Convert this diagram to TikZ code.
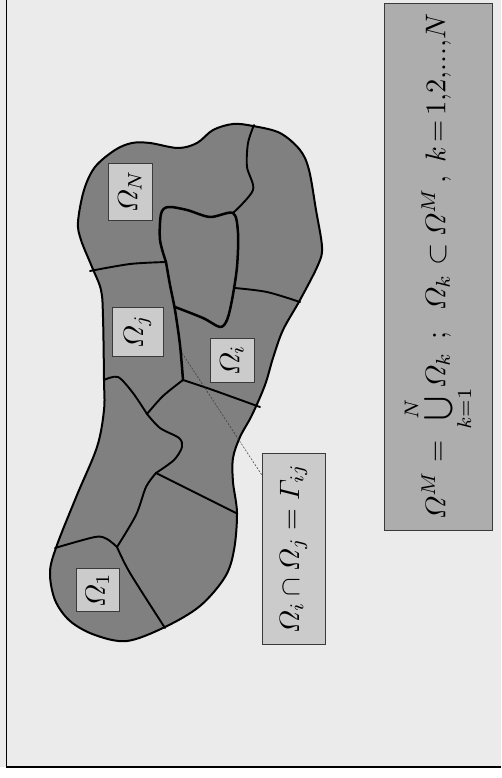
\documentclass[tikz,border=0pt]{standalone}
\usepackage{amsmath}
\usepackage{graphicx}
\usetikzlibrary{calc}
\definecolor{bgc}{HTML}{EBEBEB}
\definecolor{regc}{HTML}{808080}
\definecolor{labc}{HTML}{CBCBCB}
\definecolor{formc}{HTML}{ADADAD}
\definecolor{boxc}{HTML}{3A3A3A}
\newcommand{\bigtxt}[2]{\scalebox{#1}{#2}}
\tikzset{
  lab/.style={draw=boxc, line width=0.8pt, fill=labc, rotate=90, inner sep=0pt},
  bnd/.style={line width=1.9pt, line join=round, line cap=round},
  bndthick/.style={line width=2.5pt, line join=round, line cap=round},
}
\begin{document}
\begin{tikzpicture}[x=1pt,y=-1pt]
\useasboundingbox (0,0) rectangle (501,778);
\fill[white] (0,0) rectangle (501,778);
\fill[bgc] (0,0) rectangle (501,767);
\draw[line width=1.2pt] (6.5,0) -- (6.5,767) -- (501,767);

% formula box
\node[draw=boxc, line width=0.8pt, fill=formc, rotate=90, inner sep=0pt,
      minimum width=527pt, minimum height=108pt]
  (form) at (438,266.5)
  {\bigtxt{2.85}{$\varOmega^M\mskip5mu{=}\mskip4mu\bigcup\limits_{k=1}^{N}\!\varOmega_k\mskip8mu{;}\mskip13mu\varOmega_k\mskip6mu{\subset}\mskip4mu\varOmega^M\mskip3mu{,}\mskip8mu k\mskip3mu{=}\mskip3mu 1{,}2{,}\mathord{.}\mathord{.}\mathord{.}{,}N$}};

% domain
\fill[regc] plot[smooth cycle, tension=0.55] coordinates {
  (233,124) (253,126) (280,133) (300,150) (309,170) (316,210) (322,247) (318,265)
  (300,300) (283,330) (273,358) (265,385) (252,415) (240,437) (233,458) (233,482)
  (237,513) (234,550) (225,577) (200,606) (165,627) (127,641) (95,635) (70,621)
  (55,600) (50,572) (57,545) (77,495) (97,447) (104,410) (104,380) (103,317)
  (101,290) (92,267) (81,240) (78,222) (84,190) (95,167) (115,150) (132,143)
  (150,143) (178,148) (197,143) (213,130)};

% internal boundaries
\draw[bnd] plot[smooth] coordinates {(90,271) (130,264) (166,262)};
\draw[bndthick] plot[smooth] coordinates {(166,262) (170,285) (175,310) (180,345) (183,380)};
\draw[bndthick] plot[smooth] coordinates {(166,262) (160,240) (161,214) (168,207) (187,210) (210,217) (233,213) (238,233) (237,267) (232,300) (227,320) (220,327) (203,318) (175,307)};
\draw[bnd] plot[smooth] coordinates {(233,213) (253,190) (247,167) (248,143) (254,125)};
\draw[bnd] plot[smooth] coordinates {(235,288) (267,292) (300,302)};
\draw[bnd] plot[smooth] coordinates {(183,380) (210,389) (260,407)};
\draw[bnd] plot[smooth] coordinates {(183,380) (163,396) (147,414)};
\draw[bnd] plot[smooth] coordinates {(104,380) (118,377) (133,393) (147,414)};
\draw[bnd] plot[smooth] coordinates {(147,414) (160,428) (179,438) (182,447) (174,460) (156,473)};
\draw[bnd] plot[smooth] coordinates {(156,473) (190,490) (236,513)};
\draw[bnd] plot[smooth] coordinates {(156,473) (146,487) (136,515) (117,547)};
\draw[bnd] plot[smooth] coordinates {(117,547) (107,539) (95,537) (55,548)};
\draw[bnd] plot[smooth] coordinates {(117,547) (130,573) (165,628)};

% outline
\draw[line width=2pt, line join=round] plot[smooth cycle, tension=0.55] coordinates {
  (233,124) (253,126) (280,133) (300,150) (309,170) (316,210) (322,247) (318,265)
  (300,300) (283,330) (273,358) (265,385) (252,415) (240,437) (233,458) (233,482)
  (237,513) (234,550) (225,577) (200,606) (165,627) (127,641) (95,635) (70,621)
  (55,600) (50,572) (57,545) (77,495) (97,447) (104,410) (104,380) (103,317)
  (101,290) (92,267) (81,240) (78,222) (84,190) (95,167) (115,150) (132,143)
  (150,143) (178,148) (197,143) (213,130)};

% labels
\node[lab, minimum width=57pt, minimum height=44pt] (oN) at (130,191.5) {\bigtxt{2.8}{$\varOmega_N$}};
\node[lab, minimum width=49pt, minimum height=51pt] (oj) at (137.5,331.5) {\bigtxt{2.8}{$\varOmega_j$}};
\node[lab, minimum width=44pt, minimum height=44pt] (oi) at (232,360.5) {\bigtxt{2.8}{$\varOmega_i$}};
\node[lab, minimum width=43pt, minimum height=43pt] (o1) at (97.5,590) {\bigtxt{2.8}{$\varOmega_1$}};
\node[lab, minimum width=191pt, minimum height=63pt] (gam) at (293.5,548.5)
  {\bigtxt{2.8}{$\varOmega_i\cap\varOmega_j=\varGamma_{ij}$}};

\coordinate (gij) at (182,353);
\draw[line width=0.5pt, dash pattern=on 2pt off 1.5pt, black!80] (gij) -- ([yshift=-22pt]gam.north east);
\end{tikzpicture}
\end{document}
